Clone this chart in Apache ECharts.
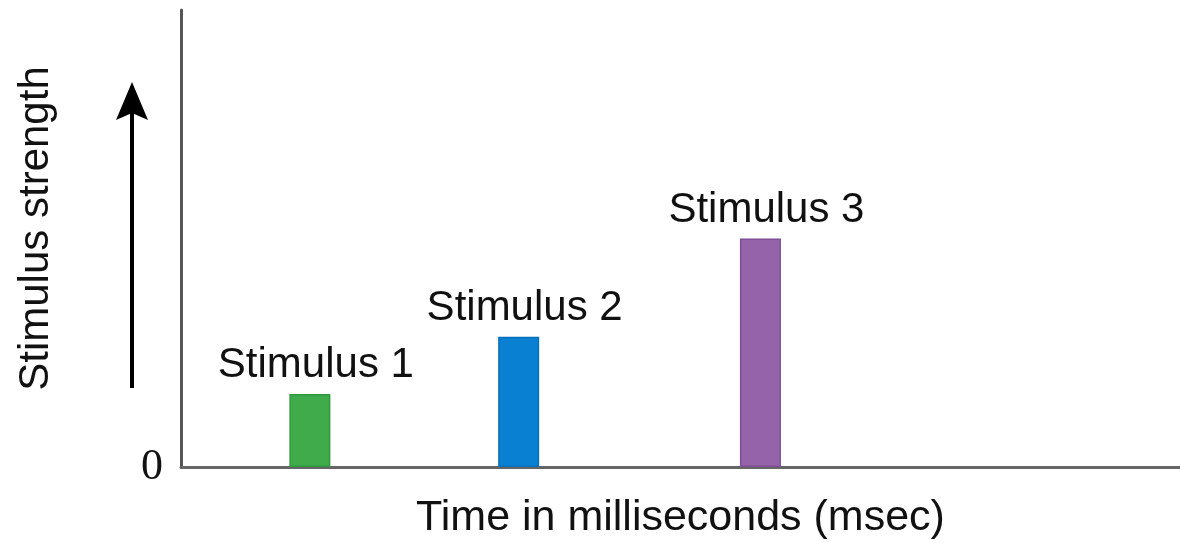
<!DOCTYPE html>
<html>
<head>
<meta charset="utf-8">
<script src="https://cdn.jsdelivr.net/npm/echarts@6/dist/echarts.min.js"></script>
<style>
html,body{margin:0;padding:0;background:#fff;}
#chart{width:1180px;height:542px;}
</style>
</head>
<body>
<div id="chart"></div>
<script>
// Data
const labels = ['Stimulus 1', 'Stimulus 2', 'Stimulus 3'];
const times = [12.9, 33.8, 58.0];          // position along time axis (0-100 scale)
const strengths = [1.6, 2.85, 5.0];        // stimulus strength (0-10 scale)
const yTickLabels = ['0'];
const barColors = ['#3fab4b', '#0a80d2', '#9563a9'];
const barBorders = ['#2e9a40', '#0870bb', '#7f4f96'];

const chart = echarts.init(document.getElementById('chart'), null, {renderer: 'canvas'});
const font = "'Liberation Sans', Arial, Helvetica, sans-serif";

const data = times.map((t, i) => ({
  value: [t, strengths[i]],
  name: labels[i],
  itemStyle: {color: barColors[i], borderColor: barBorders[i], borderWidth: 1.5}
}));

chart.setOption({
  animation: false,
  backgroundColor: '#fff',
  grid: {left: 181, right: 0, top: 10, bottom: 75, containLabel: false, outerBoundsMode: 'none'},
  xAxis: {
    type: 'value', min: 0, max: 100,
    name: 'Time in milliseconds (msec)',
    nameLocation: 'middle', nameGap: 30,
    nameTextStyle: {fontFamily: font, fontSize: 43, color: '#111'},
    axisLine: {show: true, onZero: false, lineStyle: {color: '#666', width: 3}},
    axisTick: {show: false}, axisLabel: {show: false}, splitLine: {show: false}
  },
  yAxis: {
    type: 'value', min: 0, max: 10, interval: 10,
    name: 'Stimulus strength',
    nameLocation: 'middle', nameGap: 124, nameRotate: 90,
    nameTextStyle: {fontFamily: font, fontSize: 42, color: '#111', padding: [0, 0, 0, 20]},
    axisLine: {show: true, lineStyle: {color: '#555', width: 3}},
    axisTick: {show: false}, splitLine: {show: false},
    axisLabel: {
      margin: 18,
      fontFamily: "'Liberation Serif', 'Times New Roman', serif",
      fontSize: 44, color: '#111',
      formatter: v => (v === 0 ? yTickLabels[0] : '')
    }
  },
  graphic: [
    {type: 'line', shape: {x1: 132, y1: 388, x2: 132, y2: 112}, style: {stroke: '#000', lineWidth: 4}},
    {type: 'polygon', shape: {points: [[132, 82], [116, 120], [132, 113], [148, 120]]}, style: {fill: '#000'}}
  ],
  series: [{
    type: 'bar',
    barWidth: 41,
    data: data,
    label: {
      show: true, position: 'top', distance: 7, offset: [6, 0],
      formatter: p => p.name,
      fontFamily: font, fontSize: 42, color: '#111'
    }
  }]
});
</script>
</body>
</html>
